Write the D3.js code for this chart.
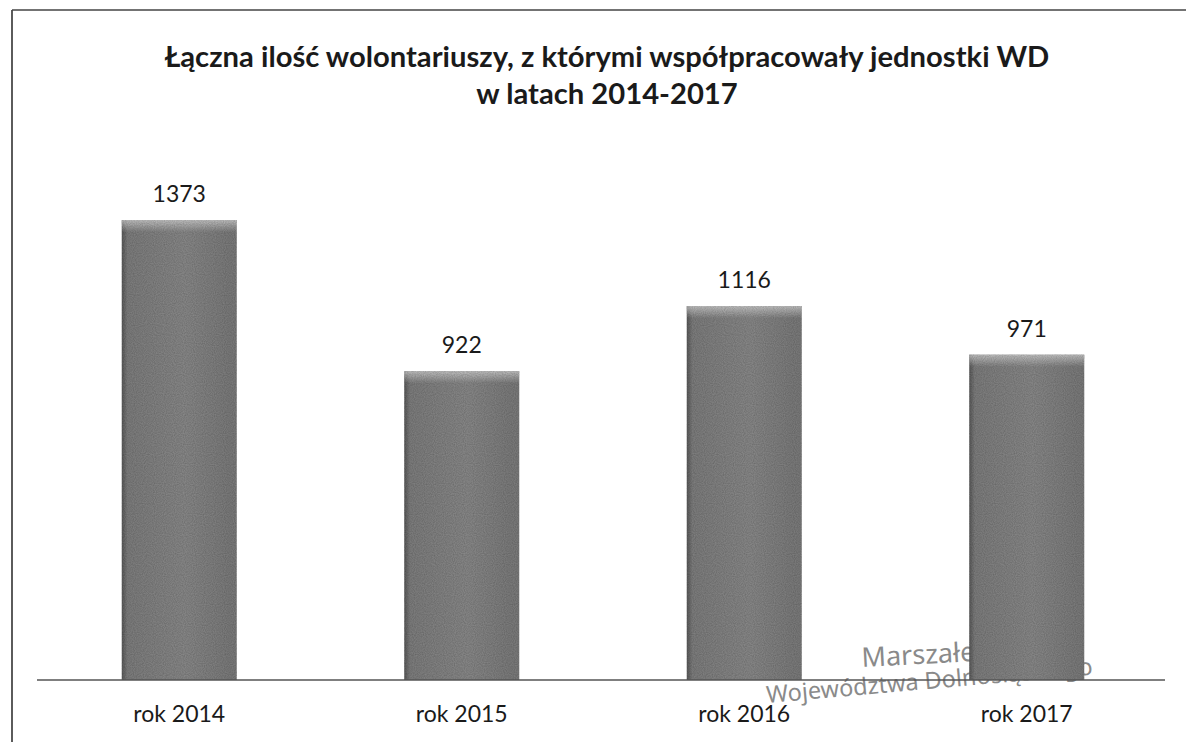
<!DOCTYPE html>
<html>
<head>
<meta charset="utf-8">
<script src="https://cdn.jsdelivr.net/npm/d3@7"></script>
<style>
  body { margin: 0; background: #fff; }
  svg { display: block; }
</style>
</head>
<body>
<div id="chart"></div>
<script>
const widthValue = 1186;
const heightValue = 742;

// data
const years = ["rok 2014", "rok 2015", "rok 2016", "rok 2017"];
const volunteers = [1373, 922, 1116, 971];
const titleLines = ["Łączna ilość wolontariuszy, z którymi współpracowały jednostki WD", "w latach 2014-2017"];
const stampLines = ["Marszałek", "Województwa Dolnośląskiego"];

const svg = d3.select("#chart")
  .append("svg")
  .attr("width", widthValue)
  .attr("height", heightValue)
  .attr("viewBox", `0 0 ${widthValue} ${heightValue}`);

const defs = svg.append("defs");
// bar shading: dark left edge, lighter top edge
const gH = defs.append("linearGradient").attr("id", "barH").attr("x1", 0).attr("x2", 1).attr("y1", 0).attr("y2", 0);
gH.append("stop").attr("offset", "0%").attr("stop-color", "#5a5a5a");
gH.append("stop").attr("offset", "5%").attr("stop-color", "#7e7e7e");
gH.append("stop").attr("offset", "55%").attr("stop-color", "#888888");
gH.append("stop").attr("offset", "100%").attr("stop-color", "#7a7a7a");
const gV = defs.append("linearGradient").attr("id", "barTop").attr("x1", 0).attr("x2", 0).attr("y1", 0).attr("y2", 1);
gV.append("stop").attr("offset", "0%").attr("stop-color", "#d0d0d0").attr("stop-opacity", 0.8);
gV.append("stop").attr("offset", "100%").attr("stop-color", "#d0d0d0").attr("stop-opacity", 0);

// scan grain
const grain = defs.append("filter").attr("id", "grain");
grain.append("feTurbulence").attr("type", "fractalNoise").attr("baseFrequency", 0.9).attr("numOctaves", 1).attr("seed", 3).attr("result", "n");
grain.append("feColorMatrix").attr("in", "n").attr("type", "matrix")
  .attr("values", "0 0 0 0 0  0 0 0 0 0  0 0 0 0 0  0 0 0 0.55 -0.1").attr("result", "na");
grain.append("feComposite").attr("in", "na").attr("in2", "SourceGraphic").attr("operator", "in").attr("result", "nc");
const merge = grain.append("feMerge");
merge.append("feMergeNode").attr("in", "SourceGraphic");
merge.append("feMergeNode").attr("in", "nc");

// frame of the scanned page
svg.append("line").attr("x1", 12).attr("x2", 12).attr("y1", 10).attr("y2", heightValue)
  .style("stroke", "#333").style("stroke-width", 1.6);
svg.append("line").attr("x1", 12).attr("x2", widthValue).attr("y1", 10).attr("y2", 10)
  .style("stroke", "#444").style("stroke-width", 1.4);

// scales
var x = d3.scaleBand()
  .domain(years)
  .range([38, 1168])
  .paddingInner(0.593)
  .paddingOuter(0.2965);

var y = d3.scaleLinear()
  .domain([0, 1600])
  .range([680, 144]);

// title
const title = svg.append("text")
  .attr("x", 607)
  .attr("text-anchor", "middle")
  .style("font-family", "Lato, 'Open Sans', sans-serif")
  .style("font-weight", "bold")
  .style("font-size", "29.2px")
  .style("fill", "#1a1a1a");
titleLines.forEach(function(t, i) {
  title.append("tspan").attr("x", 607).attr("y", 67 + i * 37).text(t);
});

// stamp text (under the bars, as on the scan)
svg.append("text")
  .attr("transform", "translate(862,667) rotate(-3)")
  .style("font-family", "'Noto Sans', sans-serif")
  .style("font-size", "27px")
  .style("fill", "#8a8a8a")
  .text(stampLines[0]);
svg.append("text")
  .attr("transform", "translate(767,703) rotate(-5)")
  .style("font-family", "'Noto Sans', sans-serif")
  .style("font-size", "23.5px")
  .style("fill", "#8a8a8a")
  .text(stampLines[1]);

// bars
const bars = svg.append("g").attr("filter", "url(#grain)");
bars.selectAll(".bar")
  .data(volunteers)
  .join("rect")
  .attr("class", "bar")
  .attr("x", (d, i) => x(years[i]))
  .attr("y", d => y(d))
  .attr("width", x.bandwidth())
  .attr("height", d => y(0) - y(d))
  .style("fill", "url(#barH)");
bars.selectAll(".barTop")
  .data(volunteers)
  .join("rect")
  .attr("class", "barTop")
  .attr("x", (d, i) => x(years[i]))
  .attr("y", d => y(d))
  .attr("width", x.bandwidth())
  .attr("height", 12)
  .style("fill", "url(#barTop)");

// baseline
svg.append("line")
  .attr("x1", 37).attr("x2", 1165)
  .attr("y1", y(0)).attr("y2", y(0))
  .style("stroke", "#555").style("stroke-width", 1.6);

// value labels
svg.selectAll(".val")
  .data(volunteers)
  .join("text")
  .attr("class", "val")
  .attr("x", (d, i) => x(years[i]) + x.bandwidth() / 2)
  .attr("y", d => y(d) - 18)
  .attr("text-anchor", "middle")
  .style("font-family", "Lato, 'Open Sans', sans-serif")
  .style("font-size", "23px")
  .style("fill", "#1a1a1a")
  .text(d => d);

// category labels
svg.selectAll(".cat")
  .data(years)
  .join("text")
  .attr("class", "cat")
  .attr("x", d => x(d) + x.bandwidth() / 2)
  .attr("y", 722)
  .attr("text-anchor", "middle")
  .style("font-family", "Lato, 'Open Sans', sans-serif")
  .style("font-size", "23px")
  .style("fill", "#1a1a1a")
  .text(d => d);
</script>
</body>
</html>
